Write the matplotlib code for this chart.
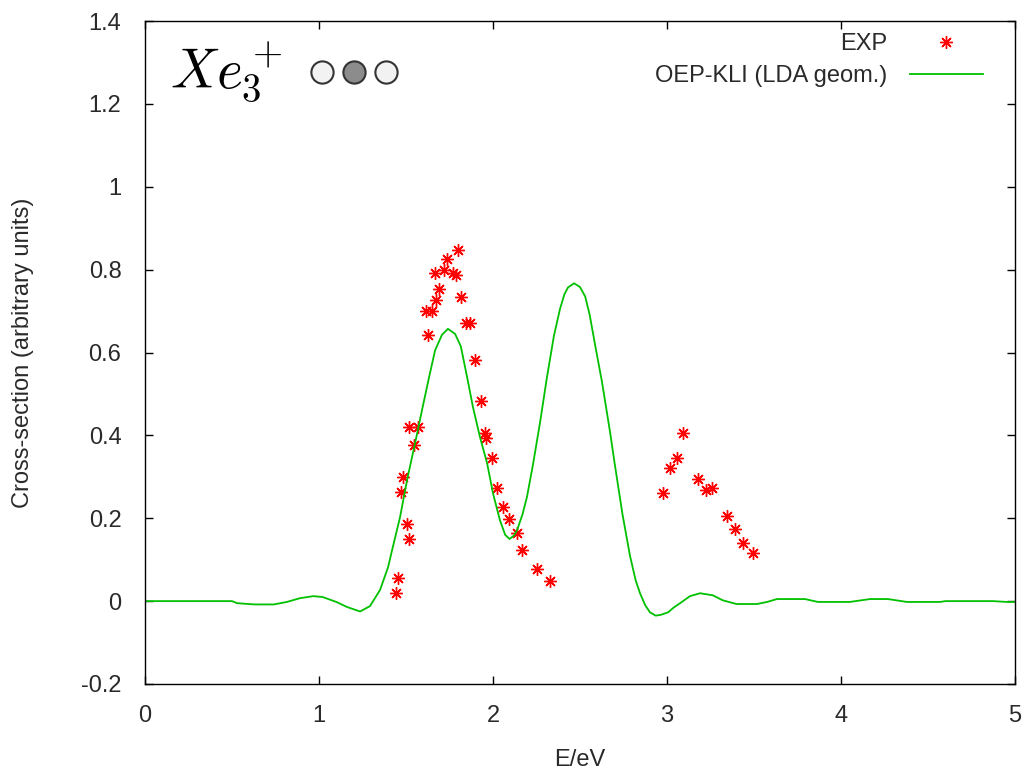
import matplotlib
matplotlib.use("Agg")
import matplotlib.pyplot as plt
from matplotlib.ticker import MultipleLocator, FormatStrFormatter

plt.rcParams['font.family'] = ['Liberation Sans', 'DejaVu Sans']
plt.rcParams['mathtext.fontset'] = 'cm'

# experimental points (EXP)
exp_e = [1.443, 1.452, 1.470, 1.485, 1.507, 1.519, 1.519, 1.546, 1.571,
         1.615, 1.625, 1.652, 1.667, 1.672, 1.691, 1.718, 1.738, 1.768,
         1.787, 1.797, 1.814, 1.845, 1.868, 1.897, 1.931, 1.954, 1.960,
         1.995, 2.023, 2.058, 2.092, 2.138, 2.167, 2.253, 2.328,
         2.977, 3.017, 3.057, 3.092, 3.178, 3.224, 3.259, 3.345, 3.391,
         3.437, 3.494]
exp_cs = [0.019, 0.056, 0.264, 0.300, 0.186, 0.150, 0.420, 0.376, 0.420,
          0.700, 0.642, 0.700, 0.791, 0.726, 0.754, 0.799, 0.826, 0.791,
          0.787, 0.847, 0.734, 0.671, 0.671, 0.582, 0.483, 0.405, 0.393,
          0.345, 0.272, 0.227, 0.197, 0.164, 0.123, 0.077, 0.048,
          0.260, 0.321, 0.345, 0.405, 0.294, 0.268, 0.273, 0.205, 0.174,
          0.140, 0.116]

# OEP-KLI (LDA geom.) curve
calc_e = [0.0, 0.50, 0.53, 0.63, 0.74, 0.815, 0.89, 0.967, 1.02, 1.10,
          1.16, 1.236, 1.293, 1.351, 1.397, 1.42, 1.466, 1.506, 1.552,
          1.592, 1.635, 1.667, 1.707, 1.741, 1.782, 1.815, 1.851, 1.885,
          1.925, 1.966, 2.0, 2.04, 2.07, 2.095, 2.12, 2.138, 2.17, 2.195,
          2.23, 2.27, 2.31, 2.35, 2.385, 2.41, 2.431, 2.466, 2.50, 2.53,
          2.556, 2.586, 2.626, 2.672, 2.70, 2.744, 2.787, 2.82, 2.845,
          2.875, 2.902, 2.935, 2.965, 3.006, 3.04, 3.075, 3.132, 3.19,
          3.264, 3.32, 3.40, 3.517, 3.575, 3.632, 3.793, 3.868, 4.05,
          4.167, 4.27, 4.379, 4.569, 4.60, 4.874, 4.954, 5.0]
calc_cs = [0.0, 0.0, -0.005, -0.008, -0.008, -0.002, 0.007, 0.012, 0.010,
           -0.002, -0.014, -0.025, -0.012, 0.027, 0.082, 0.123, 0.203,
           0.292, 0.381, 0.461, 0.545, 0.605, 0.643, 0.657, 0.645, 0.615,
           0.541, 0.468, 0.396, 0.333, 0.260, 0.195, 0.160, 0.150, 0.158,
           0.171, 0.210, 0.251, 0.330, 0.430, 0.540, 0.640, 0.705, 0.740,
           0.757, 0.767, 0.758, 0.735, 0.690, 0.620, 0.530, 0.410, 0.330,
           0.210, 0.110, 0.050, 0.019, -0.010, -0.027, -0.035, -0.033,
           -0.027, -0.015, -0.005, 0.012, 0.019, 0.014, 0.002, -0.007,
           -0.007, -0.002, 0.005, 0.005, -0.002, -0.002, 0.005, 0.005,
           -0.002, -0.002, 0.0, 0.0, -0.002, -0.002]

fs = 17
txt = '#2a2a2a'

fig = plt.figure(figsize=(10.29, 7.78), dpi=100)
ax = fig.add_axes([145 / 1029, 1 - 684 / 778, 870 / 1029, 663 / 778])

ax.plot(exp_e, exp_cs, linestyle='none', marker=(8, 2, 0), markersize=9,
        markeredgewidth=1.0, color='#ff0000', label='EXP')
ax.plot(calc_e, calc_cs, color='#00c000', linewidth=1.3,
        label='OEP-KLI (LDA geom.)')

ax.set_xlim(0, 5)
ax.set_ylim(-0.2, 1.4)
ax.xaxis.set_major_locator(MultipleLocator(1))
ax.yaxis.set_major_locator(MultipleLocator(0.2))
ax.xaxis.set_major_formatter(FormatStrFormatter('%g'))
ax.yaxis.set_major_formatter(FormatStrFormatter('%g'))
ax.tick_params(direction='in', length=6, width=1, top=True, right=True,
               labelsize=fs, labelcolor=txt)
ax.tick_params(axis='y', pad=17)
ax.tick_params(axis='x', pad=15)
for s in ax.spines.values():
    s.set_linewidth(1.0)

ax.set_xlabel('E/eV', fontsize=fs, color=txt)
ax.set_ylabel('Cross-section (arbitrary units)', fontsize=fs, color=txt)
ax.xaxis.set_label_coords(0.5, -0.098)
ax.yaxis.set_label_coords(-0.128, 0.5)

ax.legend(loc='upper right', bbox_to_anchor=(0.963, 0.982), frameon=False,
          markerfirst=False, fontsize=fs, handlelength=3.1,
          handletextpad=0.93, labelspacing=0.42, borderaxespad=0.0,
          borderpad=0.0, labelcolor=txt)

# molecule label and site sketch
ax.text(0.029, 0.899, r'$Xe_3^+$', transform=ax.transAxes, fontsize=40,
        va='baseline', ha='left')
for cx, fc in [(0.203, '#f2f2f2'), (0.240, '#8c8c8c'), (0.277, '#f2f2f2')]:
    ax.plot([cx], [0.9235], marker='o', markersize=16, markerfacecolor=fc,
            markeredgecolor='#333333', markeredgewidth=1.5,
            transform=ax.transAxes, clip_on=False)

fig.savefig('out.png', dpi=100)
